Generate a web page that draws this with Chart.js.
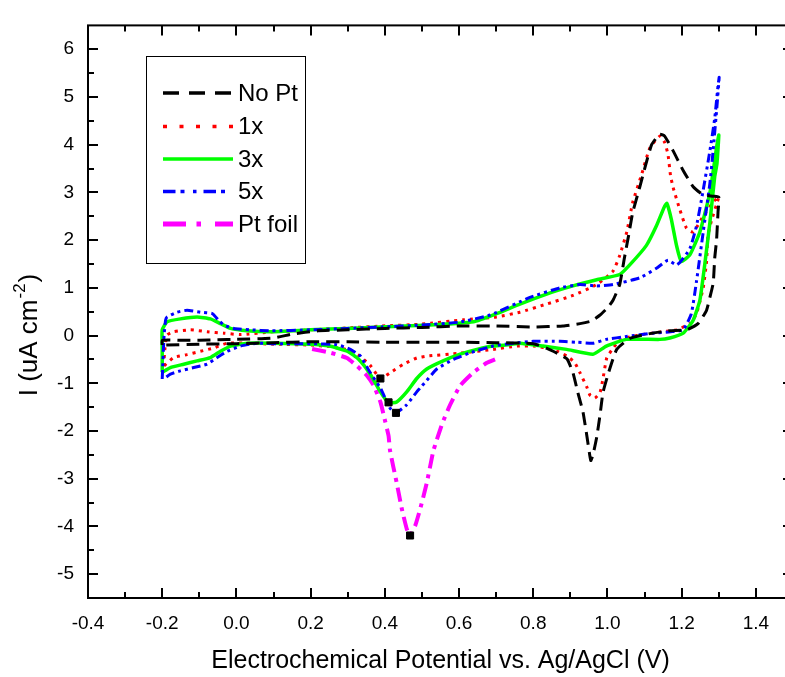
<!DOCTYPE html>
<html><head><meta charset="utf-8">
<script src="https://cdn.jsdelivr.net/npm/chart.js@4.4.1/dist/chart.umd.min.js"></script>
<style>
html,body{margin:0;padding:0;overflow:hidden;background:#fff;width:785px;height:677px}
#wrap{position:relative;width:800px;height:677px}
canvas{display:block}
</style></head>
<body><div id="wrap"><canvas id="c" width="800" height="677"></canvas></div>
<script>
// ---- data (x: V vs Ag/AgCl, y: uA cm^-2) ----
const seriesNames = ['No Pt', '1x', '3x', '5x', 'Pt foil'];
const xTickValues = [-0.4, -0.2, 0.0, 0.2, 0.4, 0.6, 0.8, 1.0, 1.2, 1.4];
const xMinorValues = [-0.3, -0.1, 0.1, 0.3, 0.5, 0.7, 0.9, 1.1, 1.3];
const yTickValues = [-5, -4, -3, -2, -1, 0, 1, 2, 3, 4, 5, 6];
const yMinorValues = [-4.5, -3.5, -2.5, -1.5, -0.5, 0.5, 1.5, 2.5, 3.5, 4.5, 5.5];

const noPt = [[-0.2,-0.2],[-0.2,-0.1],[-0.15,-0.1],[-0.1,-0.1],[-0.05,-0.09],[0,-0.08],[0.1,-0.05],[0.15,0.03],[0.22,0.1],[0.3,0.12],[0.4,0.15],[0.5,0.17],[0.6,0.2],[0.7,0.2],[0.8,0.18],[0.88,0.2],[0.926,0.25],[0.955,0.3],[0.98,0.43],[1.0,0.58],[1.015,0.74],[1.033,1.07],[1.045,1.6],[1.057,2.1],[1.068,2.58],[1.087,3.11],[1.101,3.52],[1.119,4.0],[1.141,4.22],[1.154,4.18],[1.177,3.87],[1.204,3.46],[1.231,3.12],[1.258,2.95],[1.285,2.92],[1.3,2.9],
  [1.298,2.6],[1.294,2.0],[1.289,1.62],[1.285,1.1],[1.276,0.8],[1.267,0.53],[1.244,0.25],[1.213,0.12],[1.168,0.1],[1.114,0.04],[1.06,-0.06],[1.025,-0.29],[1.006,-0.7],[0.988,-1.19],[0.98,-1.66],[0.971,-2.13],[0.961,-2.5],[0.955,-2.62],[0.945,-2.13],[0.934,-1.6],[0.92,-1.19],[0.907,-0.78],[0.891,-0.49],[0.872,-0.4],[0.837,-0.27],[0.8,-0.17],[0.7,-0.15],[0.6,-0.14],[0.5,-0.14],[0.4,-0.14],[0.3,-0.13],[0.2,-0.13],[0.1,-0.15],[0,-0.17],[-0.1,-0.18],[-0.2,-0.2]];

const onePt = [[-0.196,-0.64],[-0.193,-0.3],[-0.187,0.01],[-0.169,0.08],[-0.124,0.12],[-0.079,0.08],[-0.034,0.05],[0.011,0.02],[0.1,0.08],[0.2,0.12],[0.3,0.16],[0.39,0.2],[0.5,0.24],[0.611,0.33],[0.701,0.39],[0.764,0.49],[0.836,0.66],[0.907,0.84],[0.971,1.07],[1.015,1.35],[1.033,1.68],[1.052,2.17],[1.068,2.79],[1.093,3.4],[1.114,3.93],[1.141,4.18],[1.154,4.05],[1.163,3.8],[1.17,3.35],[1.177,3.1],[1.195,2.64],[1.213,2.25],[1.231,2.17],[1.258,2.5],[1.285,2.8],[1.3,2.91],
  [1.294,2.75],[1.28,2.4],[1.271,2.1],[1.267,1.55],[1.258,1.0],[1.24,0.46],[1.222,0.25],[1.186,0.12],[1.15,0.08],[1.1,0.03],[1.06,-0.03],[1.03,-0.12],[1.012,-0.3],[0.998,-0.47],[0.988,-0.9],[0.98,-1.19],[0.966,-1.31],[0.953,-1.25],[0.945,-1.09],[0.926,-0.78],[0.912,-0.57],[0.891,-0.43],[0.853,-0.29],[0.8,-0.22],[0.756,-0.22],[0.692,-0.29],[0.603,-0.37],[0.514,-0.43],[0.486,-0.47],[0.45,-0.6],[0.414,-0.78],[0.388,-0.9],[0.36,-0.62],[0.33,-0.42],[0.3,-0.3],[0.25,-0.23],[0.2,-0.2],[0.1,-0.18],[0.03,-0.16],[-0.025,-0.16],[-0.061,-0.26],[-0.097,-0.33],[-0.133,-0.4],[-0.169,-0.46],[-0.196,-0.64]];

const threePt = [[-0.2,-0.77],[-0.2,-0.3],[-0.2,0.12],[-0.187,0.29],[-0.151,0.35],[-0.106,0.39],[-0.07,0.35],[-0.043,0.25],[-0.016,0.15],[0.029,0.1],[0.092,0.08],[0.2,0.12],[0.3,0.15],[0.388,0.18],[0.522,0.22],[0.639,0.29],[0.701,0.46],[0.764,0.66],[0.836,0.87],[0.907,1.04],[0.971,1.17],[1.033,1.28],[1.06,1.48],[1.105,1.89],[1.132,2.3],[1.154,2.71],[1.16,2.77],[1.172,2.44],[1.186,1.89],[1.199,1.55],[1.222,1.69],[1.249,2.17],[1.276,2.99],[1.294,3.94],[1.3,4.2],
  [1.295,3.6],[1.289,3.33],[1.276,2.37],[1.262,1.48],[1.249,0.74],[1.231,0.32],[1.204,0.05],[1.168,-0.05],[1.141,-0.08],[1.051,-0.08],[0.997,-0.22],[0.961,-0.39],[0.89,-0.29],[0.826,-0.22],[0.764,-0.16],[0.737,-0.19],[0.692,-0.22],[0.648,-0.29],[0.603,-0.39],[0.557,-0.53],[0.513,-0.7],[0.486,-0.9],[0.459,-1.18],[0.432,-1.39],[0.41,-1.41],[0.388,-1.18],[0.36,-0.8],[0.33,-0.5],[0.3,-0.33],[0.25,-0.22],[0.2,-0.18],[0.1,-0.16],[0.029,-0.16],[-0.016,-0.22],[-0.043,-0.33],[-0.07,-0.46],[-0.106,-0.53],[-0.142,-0.6],[-0.178,-0.67],[-0.2,-0.77]];

const fivePt = [[-0.2,-0.91],[-0.195,0.0],[-0.191,0.32],[-0.187,0.39],[-0.16,0.49],[-0.133,0.53],[-0.097,0.49],[-0.065,0.46],[-0.048,0.32],[-0.034,0.22],[-0.007,0.15],[0.038,0.12],[0.092,0.1],[0.2,0.12],[0.3,0.15],[0.39,0.18],[0.5,0.22],[0.6,0.28],[0.684,0.43],[0.791,0.8],[0.872,1.0],[0.926,1.07],[0.971,1.04],[1.015,1.07],[1.087,1.21],[1.132,1.41],[1.163,1.58],[1.186,1.48],[1.195,1.53],[1.222,1.82],[1.24,2.3],[1.258,3.05],[1.276,3.87],[1.289,4.55],[1.298,5.24],[1.301,5.41],
  [1.295,4.8],[1.285,3.9],[1.276,3.19],[1.258,2.17],[1.24,1.14],[1.226,0.46],[1.204,0.12],[1.17,0.08],[1.123,0.05],[1.051,-0.02],[0.997,-0.08],[0.961,-0.16],[0.917,-0.14],[0.872,-0.12],[0.8,-0.12],[0.746,-0.16],[0.692,-0.22],[0.63,-0.36],[0.585,-0.5],[0.54,-0.7],[0.513,-0.94],[0.495,-1.1],[0.486,-1.18],[0.459,-1.45],[0.43,-1.62],[0.414,-1.52],[0.388,-1.1],[0.36,-0.77],[0.334,-0.43],[0.307,-0.29],[0.271,-0.19],[0.2,-0.17],[0.1,-0.17],[0.056,-0.16],[0.011,-0.22],[-0.025,-0.33],[-0.052,-0.46],[-0.079,-0.6],[-0.115,-0.67],[-0.151,-0.74],[-0.178,-0.81],[-0.196,-0.91]];

const ptFoil = [[0.204,-0.28],[0.253,-0.36],[0.298,-0.47],[0.325,-0.64],[0.352,-0.84],[0.37,-1.05],[0.388,-1.39],[0.401,-1.8],[0.41,-2.1],[0.414,-2.41],[0.432,-3.09],[0.446,-3.64],[0.459,-4.05],[0.468,-4.19],[0.482,-3.98],[0.495,-3.64],[0.513,-3.09],[0.531,-2.41],[0.554,-1.86],[0.576,-1.45],[0.603,-1.05],[0.639,-0.77],[0.675,-0.57],[0.697,-0.5]];

const peakMarks = [[0.388,-0.9],[0.41,-1.4],[0.43,-1.62],[0.468,-4.19]];

// ---- chart ----
const FONT = "'Liberation Sans', Arial, sans-serif";
const toPts = a => a.map(p => ({x: p[0], y: p[1]}));
const styles = [
  {color: '#000000', width: 3, dash: [13, 7], legendDash: [16, 10]},
  {color: '#ff0000', width: 3, dash: [3, 5], legendDash: [4, 12.5]},
  {color: '#00ff00', width: 3.5, dash: [], legendDash: []},
  {color: '#0000ff', width: 3, dash: [9, 4, 3, 4, 3, 4], legendDash: [12.5, 5, 4, 8.5, 3.5, 7]},
  {color: '#ff00ff', width: 4, dash: [14, 6, 4, 6], legendDash: [23, 10.5, 4.5, 14]}
];
const allSeries = [noPt, onePt, threePt, fivePt, ptFoil];
const drawOrder = [1, 5, 3, 2, 4];

const datasets = allSeries.map((s, i) => ({
  label: seriesNames[i],
  data: toPts(s),
  showLine: true,
  borderColor: styles[i].color,
  backgroundColor: styles[i].color,
  borderWidth: styles[i].width,
  borderDash: styles[i].dash,
  pointRadius: 0,
  pointHoverRadius: 0,
  tension: 0.15,
  order: drawOrder[i]
}));
datasets.push({
  label: 'peaks',
  data: toPts(peakMarks),
  showLine: false,
  pointStyle: 'rect',
  pointRadius: 5,
  backgroundColor: '#000',
  borderColor: '#000',
  borderWidth: 1,
  order: 0
});

const framePlugin = {
  id: 'frame',
  afterDraw(chart) {
    const {ctx, chartArea: a, scales: {x, y}} = chart;
    ctx.save();
    ctx.strokeStyle = '#000';
    ctx.lineWidth = 2;
    ctx.strokeRect(a.left, a.top, a.right - a.left, a.bottom - a.top);
    const tick = (vals, len, horiz) => {
      vals.forEach(v => {
        if (horiz) {
          const px = Math.round(x.getPixelForValue(v));
          ctx.beginPath(); ctx.moveTo(px, a.bottom); ctx.lineTo(px, a.bottom - len); ctx.stroke();
          ctx.beginPath(); ctx.moveTo(px, a.top); ctx.lineTo(px, a.top + len); ctx.stroke();
        } else {
          const py = Math.round(y.getPixelForValue(v));
          ctx.beginPath(); ctx.moveTo(a.left, py); ctx.lineTo(a.left + len, py); ctx.stroke();
          ctx.beginPath(); ctx.moveTo(a.right, py); ctx.lineTo(a.right - len, py); ctx.stroke();
        }
      });
    };
    tick(xTickValues, 10, true);
    tick(xMinorValues, 6, true);
    tick(yTickValues, 10, false);
    tick(yMinorValues, 6, false);

    // legend box
    const lx = 146.5, ly = 56.5, lw = 159, lh = 207;
    ctx.lineWidth = 1;
    ctx.strokeRect(lx, ly, lw, lh);
    const rows = [93, 126.5, 159, 191.5, 224];
    ctx.font = '24px ' + FONT;
    ctx.textBaseline = 'middle';
    ctx.fillStyle = '#000';
    seriesNames.forEach((n, i) => {
      const st = styles[i];
      ctx.save();
      ctx.strokeStyle = st.color;
      ctx.lineWidth = i === 4 ? 5 : 3.5;
      ctx.setLineDash(st.legendDash);
      ctx.beginPath(); ctx.moveTo(163, rows[i]); ctx.lineTo(233, rows[i]); ctx.stroke();
      ctx.restore();
      ctx.fillText(n, 238, rows[i] + 1);
    });

    // y-axis title with superscript
    ctx.save();
    ctx.translate(28, 336);
    ctx.rotate(-Math.PI / 2);
    ctx.fillStyle = '#000';
    const main = 'I (uA cm', sup = '-2', end = ')';
    ctx.font = '26px ' + FONT;
    const w1 = ctx.measureText(main).width, w3 = ctx.measureText(end).width;
    ctx.font = '17px ' + FONT;
    const w2 = ctx.measureText(sup).width;
    const sx = -(w1 + w2 + w3) / 2;
    ctx.textBaseline = 'alphabetic';
    ctx.font = '26px ' + FONT;
    ctx.fillText(main, sx, 9);
    ctx.font = '17px ' + FONT;
    ctx.fillText(sup, sx + w1 + 1, -3);
    ctx.font = '26px ' + FONT;
    ctx.fillText(end, sx + w1 + w2 + 2, 9);
    ctx.restore();
    ctx.restore();
  }
};

new Chart(document.getElementById('c'), {
  type: 'scatter',
  data: {datasets},
  options: {
    responsive: false,
    animation: false,
    devicePixelRatio: 1,
    layout: {padding: {top: 13, right: 7, left: 0, bottom: 0}},
    plugins: {legend: {display: false}, tooltip: {enabled: false}},
    scales: {
      x: {
        type: 'linear', min: -0.4, max: 1.5,
        grid: {display: false, drawTicks: false},
        border: {display: false},
        afterBuildTicks: s => { s.ticks = xTickValues.map(v => ({value: v})); },
        afterFit: s => { s.height = 79; },
        ticks: {color: '#000', font: {family: FONT, size: 19}, padding: 14, maxRotation: 0,
                callback: v => Number(v).toFixed(1)},
        title: {display: true, text: 'Electrochemical Potential vs. Ag/AgCl (V)', color: '#000',
                font: {family: FONT, size: 25}, padding: {top: 0, bottom: 1}}
      },
      y: {
        type: 'linear', min: -5.5, max: 6.5,
        grid: {display: false, drawTicks: false},
        border: {display: false},
        afterBuildTicks: s => { s.ticks = yTickValues.map(v => ({value: v})); },
        afterFit: s => { s.width = 88; },
        ticks: {color: '#000', font: {family: FONT, size: 19}, padding: 14,
                callback: v => String(v)}
      }
    }
  },
  plugins: [framePlugin]
});
</script>
</body></html>
